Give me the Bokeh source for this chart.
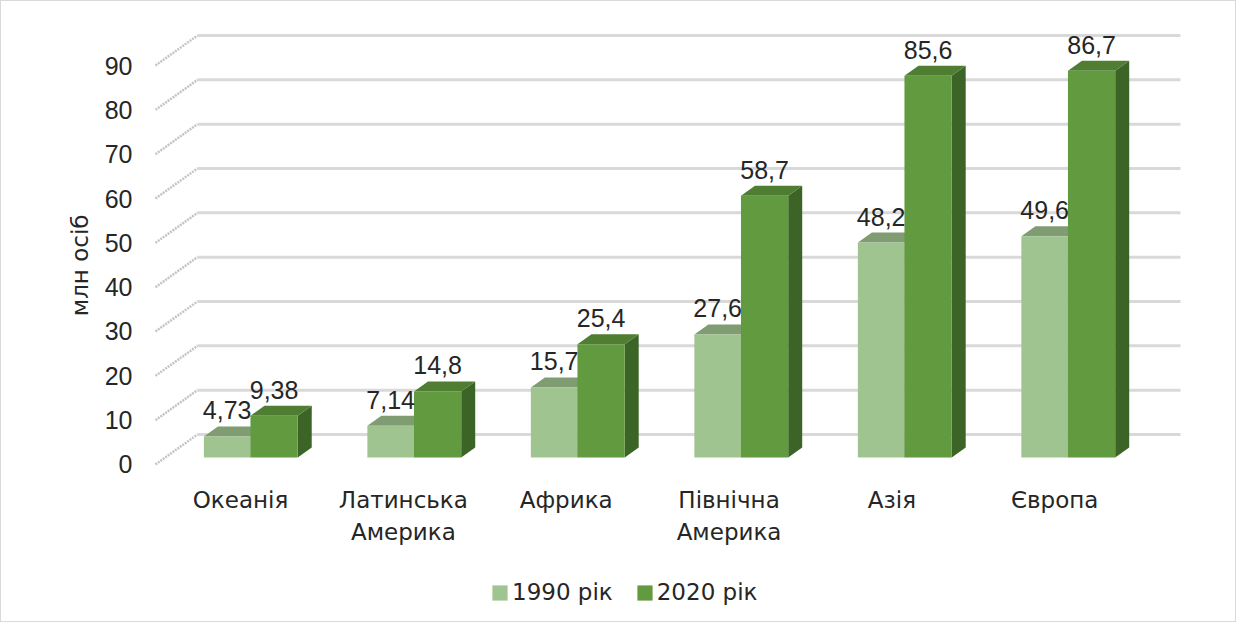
from bokeh.plotting import figure
from bokeh.models import Range1d, FixedTicker, Legend, LegendItem, Title
from bokeh.core.properties import value
from bokeh.embed import file_html
from bokeh.resources import INLINE

# ---------------- data ----------------
regions = ["Океанія", "Латинська\nАмерика", "Африка", "Північна\nАмерика", "Азія", "Європа"]
pop_1990 = [4.73, 7.14, 15.7, 27.6, 48.2, 49.6]
pop_2020 = [9.38, 14.8, 25.4, 58.7, 85.6, 86.7]
series_names = ["1990 рік", "2020 рік"]
y_ticks = [0, 10, 20, 30, 40, 50, 60, 70, 80, 90]
y_title = "млн осіб"

# ---------------- style / geometry ----------------
NUM_FONT = "Liberation Sans"
NUM_FS = "25px"
TXT_FONT = "DejaVu Sans"
TXT_FS = "23px"
TXT = "#262626"
PX_X = 163.5      # pixels per category unit
PX_Y = 4.433      # pixels per value unit
WALL_DX = 42 / PX_X
WALL_DY = 30 / PX_Y
BAR_DX = 14 / PX_X
BAR_DY = 10 / PX_Y
BASE = 7 / PX_Y
BAR_SCALE = 1.006   # slight perspective enlargement of the bar plane
L1, MID, R2 = -0.224, 0.061, 0.350
C1990 = dict(front="#9fc48f", top="#7f9c72", side="#6f8c63")
C2020 = dict(front="#629b3f", top="#4f7d31", side="#3d6427")

p = figure(width=1236, height=622, output_backend="svg", toolbar_location=None,
           x_axis_location=None, y_axis_location="left",
           x_range=Range1d(-0.5688, 6.098), y_range=Range1d(-35.87, 104.44),
           min_border_left=146, min_border_right=0, min_border_top=0, min_border_bottom=0)
p.styles = {"border": "1px solid #d9d9d9"}
p.outline_line_color = None
p.background_fill_color = "white"
p.border_fill_color = "white"
p.xgrid.visible = False
p.ygrid.visible = False

ax = p.yaxis[0]
ax.ticker = FixedTicker(ticks=y_ticks)
ax.axis_line_color = None
ax.major_tick_line_color = None
ax.minor_tick_line_color = None
ax.major_label_standoff = 9
ax.major_label_text_font = NUM_FONT
ax.major_label_text_font_size = NUM_FS
ax.major_label_text_color = TXT

p.add_layout(Title(text=y_title, align="right", offset=213, standoff=16,
                   text_font=TXT_FONT, text_font_size=TXT_FS, text_font_style="normal",
                   text_color=TXT, vertical_align="middle"), "left")

# back wall gridlines and side-wall diagonals
gx0 = (163 - 248) / PX_X
gx1 = (1188 - 248) / PX_X
p.segment(x0=[gx0 + WALL_DX] * len(y_ticks), y0=[t + WALL_DY for t in y_ticks],
          x1=[gx1] * len(y_ticks), y1=[t + WALL_DY for t in y_ticks],
          line_color="#d9d9d9", line_width=3)
p.segment(x0=[gx0] * len(y_ticks), y0=y_ticks,
          x1=[gx0 + WALL_DX] * len(y_ticks), y1=[t + WALL_DY for t in y_ticks],
          line_color="#c4c4c4", line_width=2.5, line_dash="2 1")

def draw_series(vals, xl, xr, col):
    n = len(vals)
    tops = [BASE + v * BAR_SCALE for v in vals]
    left = [i + xl for i in range(n)]
    right = [i + xr for i in range(n)]
    side_xs = [[r, r + BAR_DX, r + BAR_DX, r] for r in right]
    side_ys = [[BASE, BASE + BAR_DY, t + BAR_DY, t] for t in tops]
    p.patches(side_xs, side_ys, fill_color=col["side"], line_color=None)
    top_xs = [[l, r, r + BAR_DX, l + BAR_DX] for l, r in zip(left, right)]
    top_ys = [[t, t, t + BAR_DY, t + BAR_DY] for t in tops]
    p.patches(top_xs, top_ys, fill_color=col["top"], line_color=None)
    return p.quad(left=left, right=right, bottom=[BASE] * n, top=tops,
                  fill_color=col["front"], line_color=None)

r1 = draw_series(pop_1990, L1, MID, C1990)
r2 = draw_series(pop_2020, MID, R2, C2020)

def fmt(v):
    return str(v).replace(".", ",")

LAB_DY = BASE + BAR_DY + 16 / PX_Y
p.text(x=[i + (L1 + MID) / 2 for i in range(len(pop_1990))],
       y=[v * BAR_SCALE + LAB_DY for v in pop_1990], text=[fmt(v) for v in pop_1990],
       text_align="center", text_baseline="middle", text_font=value(NUM_FONT),
       text_font_size=NUM_FS, text_color=TXT)
p.text(x=[i + (MID + R2) / 2 for i in range(len(pop_2020))],
       y=[v * BAR_SCALE + LAB_DY for v in pop_2020], text=[fmt(v) for v in pop_2020],
       text_align="center", text_baseline="middle", text_font=value(NUM_FONT),
       text_font_size=NUM_FS, text_color=TXT)

# category labels
cx, cy, ct = [], [], []
for i, name in enumerate(regions):
    for k, line in enumerate(name.split("\n")):
        cx.append(i - 0.004 * i)
        cy.append((472 - 508) / PX_Y - k * 32 / PX_Y)
        ct.append(line)
p.text(x=cx, y=cy, text=ct, text_align="center", text_baseline="middle",
       text_font=value(TXT_FONT), text_font_size=TXT_FS, text_color=TXT)

legend = Legend(items=[LegendItem(label=series_names[0], renderers=[r1]),
                       LegendItem(label=series_names[1], renderers=[r2])],
                orientation="horizontal", location=(343, 18), padding=0, margin=0,
                spacing=22, glyph_width=19, glyph_height=19, label_standoff=3,
                border_line_color=None, background_fill_alpha=0,
                label_text_font=TXT_FONT, label_text_font_size=TXT_FS, label_text_color=TXT)
p.add_layout(legend)

open("out.html", "w").write(file_html(p, INLINE))
